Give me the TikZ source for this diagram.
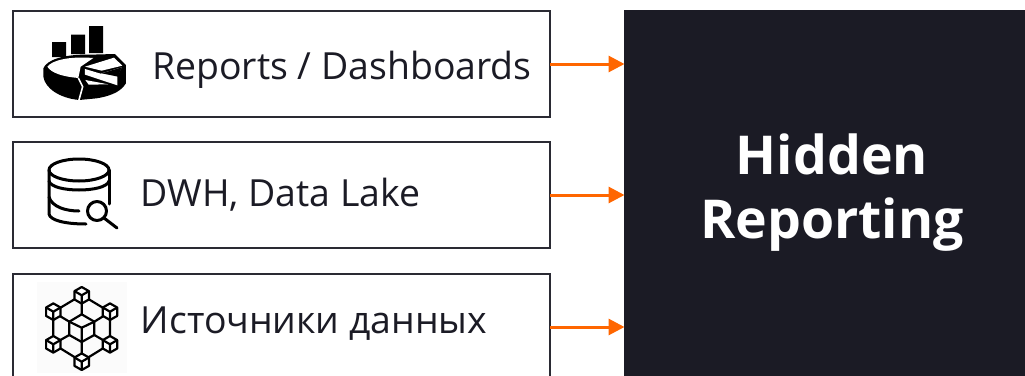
\documentclass[tikz,border=0pt]{standalone}
\usepackage{fontspec}
\setmainfont{Open Sans}
\usetikzlibrary{arrows.meta}
\definecolor{ink}{HTML}{1B1B25}
\definecolor{edgeink}{HTML}{2A2A33}
\definecolor{accent}{HTML}{FF6600}
\tikzset{
  panel/.style={draw=edgeink,line width=1.8pt,fill=white,minimum width=537pt,minimum height=106pt,inner sep=0pt,outer sep=0pt,anchor=north west},
  label/.style={text=ink,font=\fontsize{37.4}{37.4}\selectfont,anchor=base west,inner sep=0pt},
  flow/.style={draw=accent,line width=3pt,-{Triangle[length=16pt,width=16pt]},shorten >=-0.5pt},
  glyph/.style={draw=black,line width=3pt,line cap=round,line join=round},
  net/.style={draw=black,line width=2.2pt,line cap=round,line join=round},
  isocube/.pic={
    \path[draw=black,fill=white,line width=2.2pt,line join=round] (0,-8.3) -- (7.2,-4.2) -- (7.2,4.2) -- (0,8.3) -- (-7.2,4.2) -- (-7.2,-4.2) -- cycle;
    \path[draw=black,line width=2.2pt,line join=round] (-7.2,-4.2) -- (0,0) -- (7.2,-4.2) (0,0) -- (0,8.3);
  }
}
\begin{document}
\begin{tikzpicture}[x=1pt,y=-1pt]
\useasboundingbox (0,0) rectangle (1025,375);
\clip (0,0) rectangle (1025,375);
\fill[white] (0,0) rectangle (1025,375);
\node[fill=ink,minimum width=420pt,minimum height=380pt,inner sep=0pt,outer sep=0pt,anchor=north west] (dark) at (624,10) {};
\node[panel] (box1) at (13,11) {};
\node[panel] (box2) at (13,142) {};
\node[panel] (box3) at (13,274) {};
\node[label] (t1) at (152,79) {Reports / Dashboards};
\node[label] (t2) at (140.5,206) {DWH, Data Lake};
\node[label] (t3) at (140.5,333) {Источники данных};
\node[text=white,font=\fontsize{53.6}{64}\selectfont\bfseries,align=center,inner sep=0pt] (title) at (832,192.5) {Hidden\\Reporting};
\draw[flow] (box1.east) -- (box1.east -| dark.west);
\draw[flow] (box2.east) -- (box2.east -| dark.west);
\draw[flow] (box3.east) -- (box3.east -| dark.west);
% chart icon
\fill[black] (52,42) rectangle (66,57) (71,34.5) rectangle (85,54) (89,26) rectangle (103,53);
\begin{scope}[shift={(40,50)},x=0.3333pt,y=-0.3333pt]
\fill[black] (10,55) .. controls (20,30) and (70,12) .. (150,14) -- (225,12) -- (258,45) -- (258,100) .. controls (240,130) and (200,140) .. (170,145) -- (118,150) .. controls (60,145) and (15,115) .. (10,80) -- cycle;
\fill[white] (22,50) .. controls (35,32) and (85,18) .. (160,24) -- (122,50) -- (115,84) .. controls (70,80) and (35,70) .. (22,50) -- cycle;
\fill[white] (135,50) -- (222,23) -- (247,47) -- (185,62) -- cycle;
\fill[white] (135,57) -- (182,71) -- (245,52) -- (232,78) -- (232,106) -- (135,74) -- cycle;
\fill[black] (185,70) -- (245,52) -- (234,80) -- cycle;
\fill[white] (136,90) -- (146,104) -- (205,103) -- cycle;
\draw[white,line width=1.6pt] (115,84) -- (128,110) -- (117,150);
\end{scope}
% database icon
\draw[glyph] (79,170) ellipse [x radius=30,y radius=11];
\draw[glyph] (49,170) -- (49,214) .. controls (50,220) and (64,224) .. (86,224);
\draw[glyph] (109,170) -- (109,204);
\draw[glyph] (49,181) .. controls (52,193) and (106,193) .. (109,181);
\draw[glyph] (49,197) .. controls (52,207) and (66,211) .. (79,211);
\draw[glyph] (97,211) circle [radius=9.5];
\draw[glyph] (104,218) -- (117,228);
% network icon
\fill[black!1.5] (37,282) rectangle (127,373);
\draw[net] (81.7,295) -- (110,312) -- (110,344) -- (81.7,361.5) -- (53.3,344) -- (53.3,312) -- cycle;
\draw[net] (81.7,295) -- (81.7,314) (81.7,342) -- (81.7,361.5) (53.3,312) -- (69.3,321.7) (110,312) -- (94.3,321.7) (53.3,344) -- (69.3,335) (110,344) -- (94.3,335);
\draw[net] (81.7,314.3) -- (94.3,321.7) -- (94.3,335) -- (81.7,342) -- (69.3,335) -- (69.3,321.7) -- cycle;
\draw[net] (69.3,321.7) -- (81.7,327.7) -- (94.3,321.7) (81.7,327.7) -- (81.7,342);
\pic at (81.7,295.3) {isocube};
\pic at (53.3,311.7) {isocube};
\pic at (110,311.7) {isocube};
\pic at (53.3,344.3) {isocube};
\pic at (110,344.3) {isocube};
\pic at (81.7,361.7) {isocube};
\end{tikzpicture}
\end{document}
